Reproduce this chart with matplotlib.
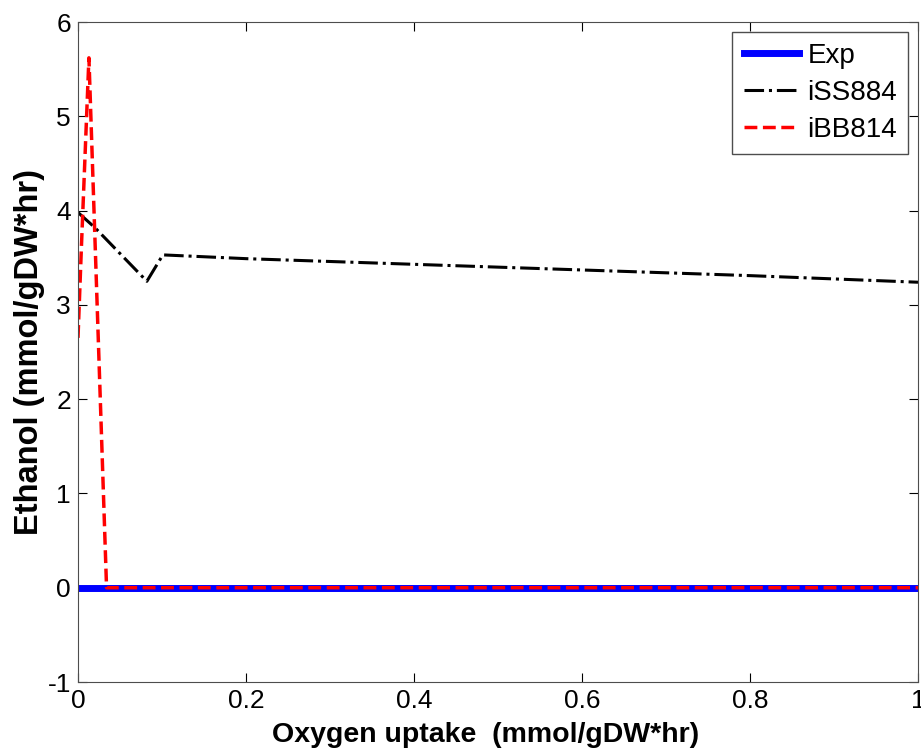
import matplotlib
matplotlib.use('Agg')
import matplotlib.pyplot as plt

# measured / simulated ethanol secretion vs oxygen uptake
exp_x = [0.0, 1.0]
exp_y = [0.0, 0.0]

iss_x = [0.0, 0.02, 0.082, 0.101, 0.2, 0.4, 0.6, 0.8, 1.0]
iss_y = [3.98, 3.82, 3.25, 3.53, 3.49, 3.43, 3.37, 3.31, 3.24]

ibb_x = [0.0, 0.004, 0.013, 0.034, 0.2, 0.4, 0.6, 0.8, 1.0]
ibb_y = [2.65, 3.6, 5.62, 0.0, 0.0, 0.0, 0.0, 0.0, 0.0]

plt.rcParams['font.family'] = ['Liberation Sans', 'DejaVu Sans']
plt.rcParams['axes.unicode_minus'] = False

fig = plt.figure(figsize=(9.21, 7.52), dpi=100)
ax = fig.add_axes([78 / 921, 70 / 752, 840 / 921, 660 / 752])

ax.plot(exp_x, exp_y, color='b', linewidth=5, label='Exp')
ax.plot(iss_x, iss_y, color='k', linestyle='-.', linewidth=2.2, label='iSS884')
ax.plot(ibb_x, ibb_y, color='r', linestyle='--', linewidth=2.5, label='iBB814')

ax.set_xlim(0, 1)
ax.set_ylim(-1, 6)
ax.set_xticks([0, 0.2, 0.4, 0.6, 0.8, 1])
ax.set_xticklabels(['0', '0.2', '0.4', '0.6', '0.8', '1'])
ax.set_yticks(range(-1, 7))
ax.tick_params(direction='in', top=True, right=True, labelsize=19, length=6.5, pad=5)
for s in ax.spines.values():
    s.set_color('0.3')

ax.set_xlabel('Oxygen uptake  (mmol/gDW*hr)', fontsize=20.5, fontweight='bold', labelpad=3)
ax.xaxis.set_label_coords(0.485, -0.06)
ax.set_ylabel('Ethanol (mmol/gDW*hr)', fontsize=23.5, fontweight='bold', labelpad=2)

leg = ax.legend(loc='upper right', fontsize=20, fancybox=False, framealpha=1,
                edgecolor='0.3', handlelength=2.0, borderpad=0.4, labelspacing=0.4,
                handletextpad=0.3, borderaxespad=0.35)

fig.savefig('out.png', dpi=100)
